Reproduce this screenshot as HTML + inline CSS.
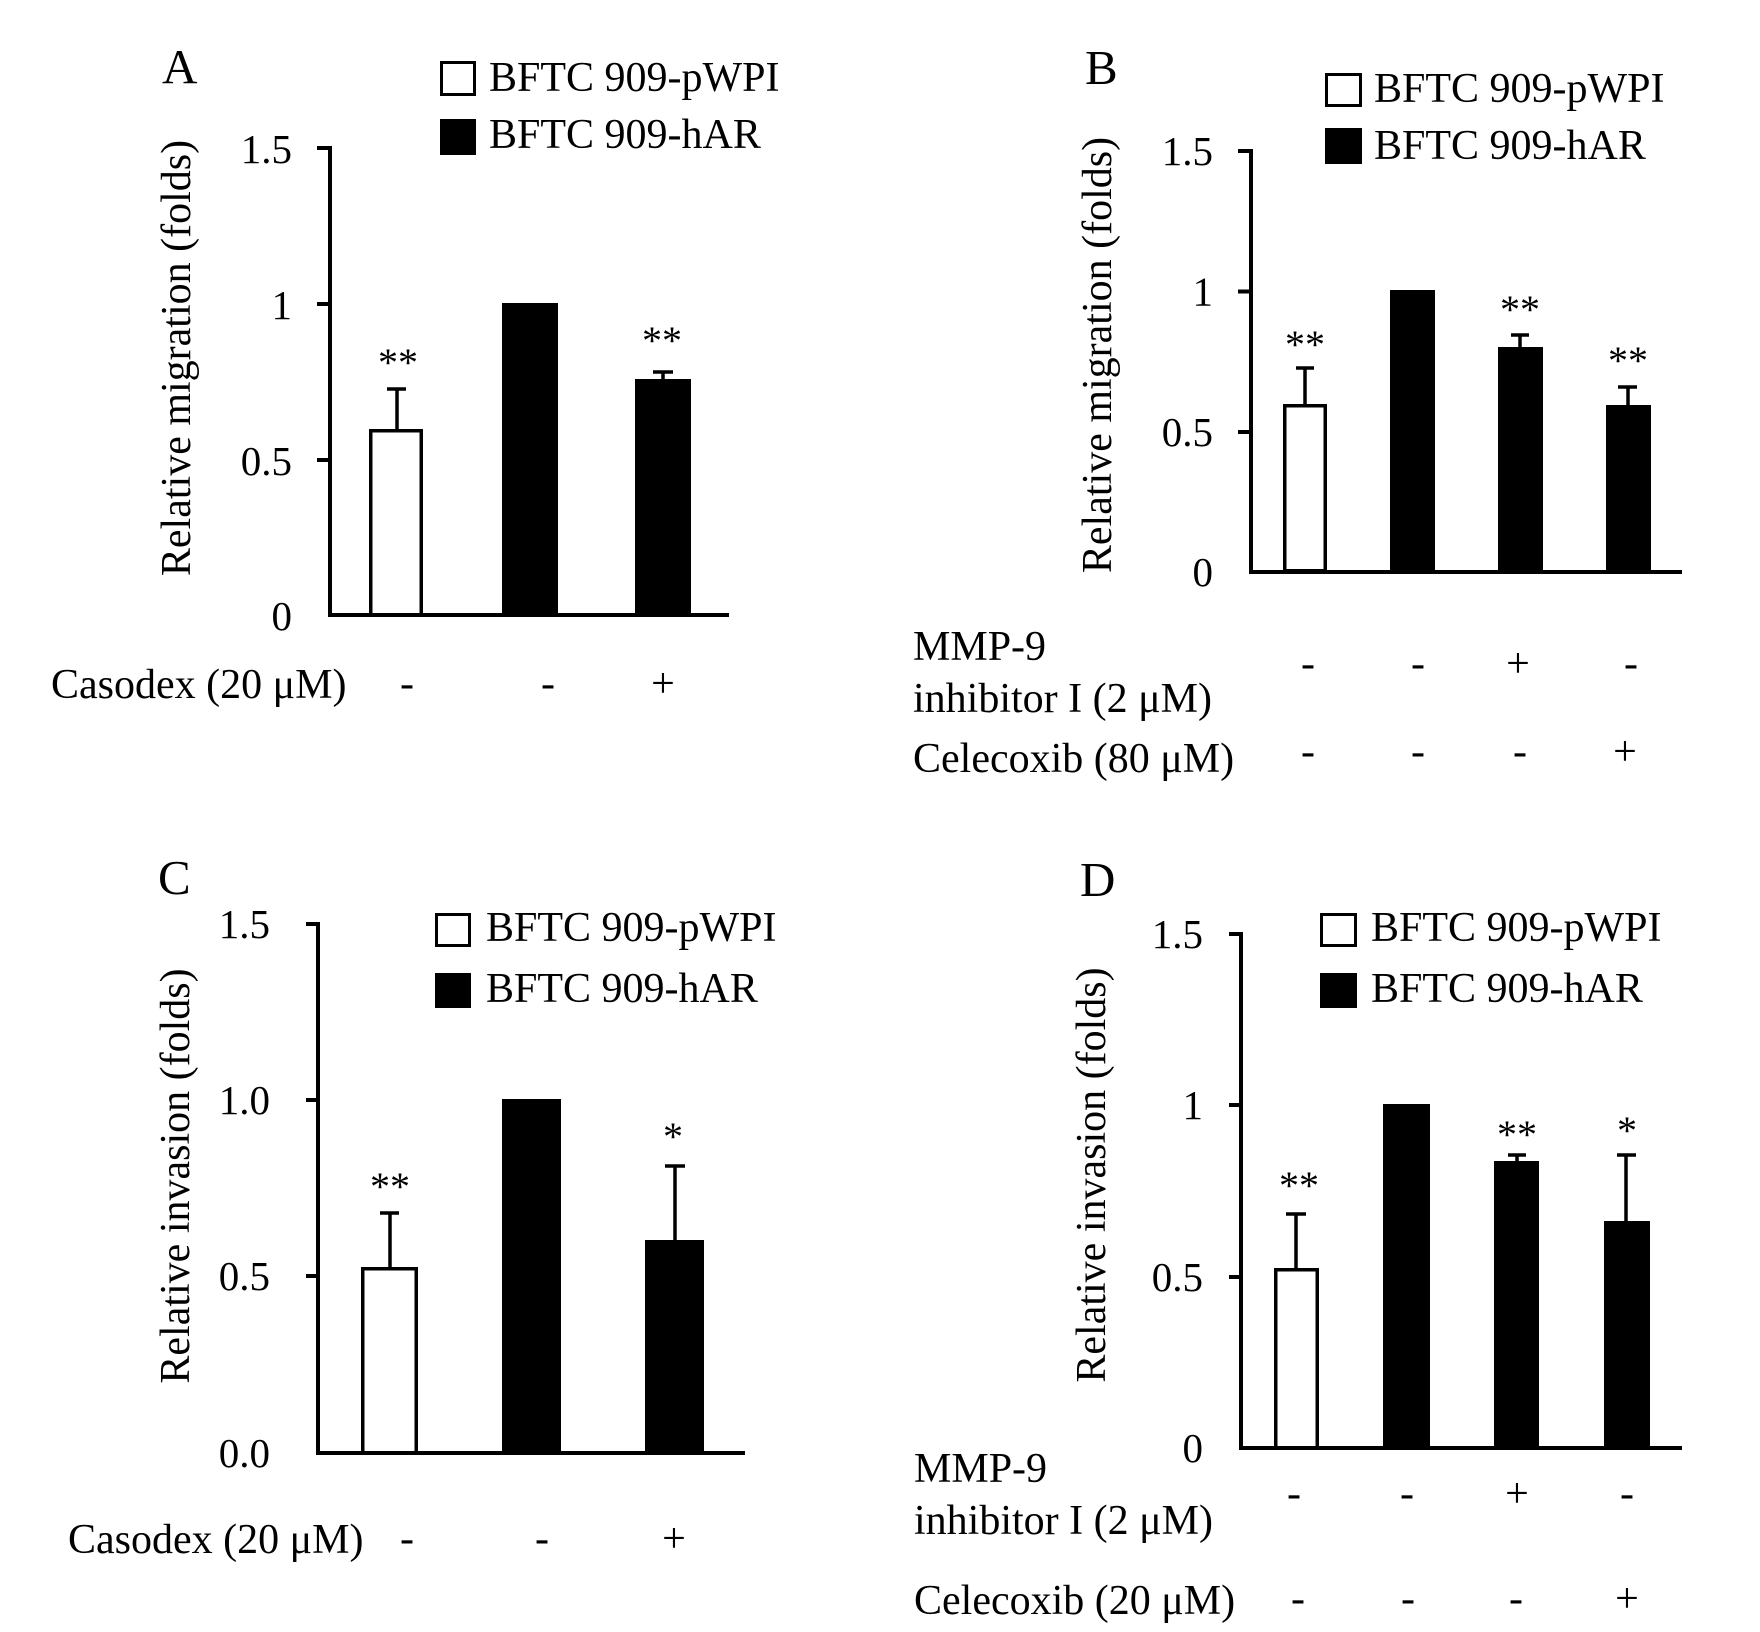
<!DOCTYPE html>
<html>
<head>
<meta charset="utf-8">
<style>
  html, body { margin: 0; padding: 0; background: #fff; }
  svg { display: block; }
  text { font-family: "Liberation Serif", "Times New Roman", serif; fill: #000; }
  .lbl { font-size: 42px; }
  .tick { font-size: 41px; }
  .let { font-size: 49px; }
  .ast { font-size: 40px; }
</style>
</head>
<body>
<svg width="1760" height="1632" viewBox="0 0 1760 1632" xmlns="http://www.w3.org/2000/svg">
  <rect x="0" y="0" width="1760" height="1632" fill="#fff"/>

  <!-- ================= PANEL A ================= -->
  <text class="let" x="162" y="83">A</text>
  <!-- legend -->
  <rect x="441.5" y="62.5" width="33" height="32" fill="#fff" stroke="#000" stroke-width="3"/>
  <text class="lbl" x="489" y="91">BFTC 909-pWPI</text>
  <rect x="440" y="119" width="36" height="36" fill="#000"/>
  <text class="lbl" x="489" y="148">BFTC 909-hAR</text>
  <!-- y label -->
  <text class="lbl" text-anchor="middle" transform="translate(190,358) rotate(-90)">Relative migration (folds)</text>
  <!-- ticks labels -->
  <text class="tick" text-anchor="end" x="292" y="163">1.5</text>
  <text class="tick" text-anchor="end" x="292" y="319">1</text>
  <text class="tick" text-anchor="end" x="292" y="475">0.5</text>
  <text class="tick" text-anchor="end" x="292" y="630">0</text>
  <!-- bars -->
  <rect x="370.75" y="430.75" width="50.5" height="184" fill="#fff" stroke="#000" stroke-width="3.5"/>
  <rect x="502" y="303" width="56" height="312" fill="#000"/>
  <rect x="635" y="379" width="56" height="236" fill="#000"/>
  <!-- error bars -->
  <g stroke="#000" stroke-width="3.5" fill="none">
    <line x1="397" y1="430" x2="397" y2="389"/>
    <line x1="387" y1="389" x2="406" y2="389"/>
    <line x1="663" y1="380" x2="663" y2="372"/>
    <line x1="653" y1="372" x2="673" y2="372"/>
  </g>
  <!-- axes -->
  <g stroke="#000" stroke-width="4" fill="none">
    <line x1="330" y1="146" x2="330" y2="617"/>
    <line x1="328" y1="615" x2="729" y2="615"/>
    <line x1="317" y1="148" x2="330" y2="148"/>
    <line x1="317" y1="304" x2="330" y2="304"/>
    <line x1="317" y1="460" x2="330" y2="460"/>
  </g>
  <text class="ast" text-anchor="middle" x="398" y="376">**</text>
  <text class="ast" text-anchor="middle" x="662" y="354">**</text>
  <!-- condition row -->
  <text class="lbl" x="51" y="698">Casodex (20 μM)</text>
  <text class="lbl" text-anchor="middle" x="407" y="697">-</text>
  <text class="lbl" text-anchor="middle" x="548" y="697">-</text>
  <text class="lbl" text-anchor="middle" x="663" y="697">+</text>

  <!-- ================= PANEL B ================= -->
  <text class="let" x="1085" y="84">B</text>
  <rect x="1326.5" y="74.5" width="34" height="31" fill="#fff" stroke="#000" stroke-width="3"/>
  <text class="lbl" x="1374" y="102">BFTC 909-pWPI</text>
  <rect x="1325" y="128" width="37" height="36" fill="#000"/>
  <text class="lbl" x="1374" y="159">BFTC 909-hAR</text>
  <text class="lbl" text-anchor="middle" transform="translate(1111,355) rotate(-90)">Relative migration (folds)</text>
  <text class="tick" text-anchor="end" x="1213" y="165">1.5</text>
  <text class="tick" text-anchor="end" x="1213" y="305.5">1</text>
  <text class="tick" text-anchor="end" x="1213" y="446">0.5</text>
  <text class="tick" text-anchor="end" x="1213" y="586">0</text>
  <rect x="1284.75" y="405.75" width="40.5" height="165" fill="#fff" stroke="#000" stroke-width="3.5"/>
  <rect x="1390" y="290" width="45" height="282" fill="#000"/>
  <rect x="1498" y="347" width="45" height="225" fill="#000"/>
  <rect x="1606" y="405" width="45" height="167" fill="#000"/>
  <g stroke="#000" stroke-width="3.5" fill="none">
    <line x1="1305" y1="405" x2="1305" y2="368"/>
    <line x1="1296" y1="368" x2="1314" y2="368"/>
    <line x1="1520" y1="348" x2="1520" y2="335"/>
    <line x1="1511" y1="335" x2="1529" y2="335"/>
    <line x1="1628" y1="406" x2="1628" y2="387"/>
    <line x1="1618" y1="387" x2="1637" y2="387"/>
  </g>
  <g stroke="#000" stroke-width="4" fill="none">
    <line x1="1251" y1="149" x2="1251" y2="574"/>
    <line x1="1249" y1="572" x2="1682" y2="572"/>
    <line x1="1238" y1="151" x2="1251" y2="151"/>
    <line x1="1238" y1="291.5" x2="1251" y2="291.5"/>
    <line x1="1238" y1="432" x2="1251" y2="432"/>
  </g>
  <text class="ast" text-anchor="middle" x="1305" y="358">**</text>
  <text class="ast" text-anchor="middle" x="1520" y="323">**</text>
  <text class="ast" text-anchor="middle" x="1628" y="374">**</text>
  <text class="lbl" x="913" y="660">MMP-9</text>
  <text class="lbl" x="913" y="712">inhibitor I (2 μM)</text>
  <text class="lbl" x="913" y="772">Celecoxib (80 μM)</text>
  <text class="lbl" text-anchor="middle" x="1308" y="677">-</text>
  <text class="lbl" text-anchor="middle" x="1418" y="677">-</text>
  <text class="lbl" text-anchor="middle" x="1518" y="677">+</text>
  <text class="lbl" text-anchor="middle" x="1631" y="677">-</text>
  <text class="lbl" text-anchor="middle" x="1308" y="765">-</text>
  <text class="lbl" text-anchor="middle" x="1418" y="765">-</text>
  <text class="lbl" text-anchor="middle" x="1520" y="765">-</text>
  <text class="lbl" text-anchor="middle" x="1625" y="765">+</text>

  <!-- ================= PANEL C ================= -->
  <text class="let" x="158" y="894">C</text>
  <rect x="436.5" y="914.5" width="33" height="31" fill="#fff" stroke="#000" stroke-width="3"/>
  <text class="lbl" x="486" y="941">BFTC 909-pWPI</text>
  <rect x="435" y="973" width="36" height="35" fill="#000"/>
  <text class="lbl" x="486" y="1002">BFTC 909-hAR</text>
  <text class="lbl" text-anchor="middle" transform="translate(189,1176) rotate(-90)">Relative invasion (folds)</text>
  <text class="tick" text-anchor="end" x="270" y="938">1.5</text>
  <text class="tick" text-anchor="end" x="270" y="1114">1.0</text>
  <text class="tick" text-anchor="end" x="270" y="1290">0.5</text>
  <text class="tick" text-anchor="end" x="270" y="1467">0.0</text>
  <rect x="362.75" y="1268.75" width="53.5" height="184" fill="#fff" stroke="#000" stroke-width="3.5"/>
  <rect x="502" y="1099" width="59" height="354" fill="#000"/>
  <rect x="645" y="1240" width="59" height="213" fill="#000"/>
  <g stroke="#000" stroke-width="3.5" fill="none">
    <line x1="390" y1="1268" x2="390" y2="1213"/>
    <line x1="380" y1="1213" x2="399" y2="1213"/>
    <line x1="675" y1="1241" x2="675" y2="1166"/>
    <line x1="665" y1="1166" x2="685" y2="1166"/>
  </g>
  <g stroke="#000" stroke-width="4" fill="none">
    <line x1="318" y1="922" x2="318" y2="1455"/>
    <line x1="316" y1="1453" x2="745" y2="1453"/>
    <line x1="306" y1="924" x2="318" y2="924"/>
    <line x1="306" y1="1100" x2="318" y2="1100"/>
    <line x1="306" y1="1276" x2="318" y2="1276"/>
  </g>
  <text class="ast" text-anchor="middle" x="390" y="1200">**</text>
  <text class="ast" text-anchor="middle" x="673" y="1150">*</text>
  <text class="lbl" x="68" y="1553">Casodex (20 μM)</text>
  <text class="lbl" text-anchor="middle" x="407" y="1552">-</text>
  <text class="lbl" text-anchor="middle" x="542" y="1552">-</text>
  <text class="lbl" text-anchor="middle" x="674" y="1552">+</text>

  <!-- ================= PANEL D ================= -->
  <text class="let" x="1080" y="896">D</text>
  <rect x="1321.5" y="914.5" width="34" height="31" fill="#fff" stroke="#000" stroke-width="3"/>
  <text class="lbl" x="1371" y="941">BFTC 909-pWPI</text>
  <rect x="1320" y="973" width="37" height="35" fill="#000"/>
  <text class="lbl" x="1371" y="1002">BFTC 909-hAR</text>
  <text class="lbl" text-anchor="middle" transform="translate(1105,1175) rotate(-90)">Relative invasion (folds)</text>
  <text class="tick" text-anchor="end" x="1203" y="948">1.5</text>
  <text class="tick" text-anchor="end" x="1203" y="1119">1</text>
  <text class="tick" text-anchor="end" x="1203" y="1291">0.5</text>
  <text class="tick" text-anchor="end" x="1203" y="1462">0</text>
  <rect x="1275.75" y="1269.75" width="41.5" height="178" fill="#fff" stroke="#000" stroke-width="3.5"/>
  <rect x="1383" y="1104" width="47" height="344" fill="#000"/>
  <rect x="1494" y="1161" width="45" height="287" fill="#000"/>
  <rect x="1604" y="1221" width="46" height="227" fill="#000"/>
  <g stroke="#000" stroke-width="3.5" fill="none">
    <line x1="1296" y1="1269" x2="1296" y2="1214"/>
    <line x1="1286" y1="1214" x2="1306" y2="1214"/>
    <line x1="1517" y1="1162" x2="1517" y2="1155"/>
    <line x1="1508" y1="1155" x2="1526" y2="1155"/>
    <line x1="1626" y1="1222" x2="1626" y2="1155"/>
    <line x1="1617" y1="1155" x2="1636" y2="1155"/>
  </g>
  <g stroke="#000" stroke-width="4" fill="none">
    <line x1="1241" y1="932" x2="1241" y2="1450"/>
    <line x1="1239" y1="1448" x2="1682" y2="1448"/>
    <line x1="1229" y1="934" x2="1241" y2="934"/>
    <line x1="1229" y1="1105" x2="1241" y2="1105"/>
    <line x1="1229" y1="1277" x2="1241" y2="1277"/>
  </g>
  <text class="ast" text-anchor="middle" x="1299" y="1199">**</text>
  <text class="ast" text-anchor="middle" x="1517" y="1148">**</text>
  <text class="ast" text-anchor="middle" x="1627" y="1144">*</text>
  <text class="lbl" x="914" y="1482">MMP-9</text>
  <text class="lbl" x="914" y="1534">inhibitor I (2 μM)</text>
  <text class="lbl" x="914" y="1614">Celecoxib (20 μM)</text>
  <text class="lbl" text-anchor="middle" x="1294" y="1507">-</text>
  <text class="lbl" text-anchor="middle" x="1407" y="1507">-</text>
  <text class="lbl" text-anchor="middle" x="1517" y="1507">+</text>
  <text class="lbl" text-anchor="middle" x="1627" y="1507">-</text>
  <text class="lbl" text-anchor="middle" x="1298" y="1612">-</text>
  <text class="lbl" text-anchor="middle" x="1408" y="1612">-</text>
  <text class="lbl" text-anchor="middle" x="1516" y="1612">-</text>
  <text class="lbl" text-anchor="middle" x="1627" y="1612">+</text>
</svg>
</body>
</html>
